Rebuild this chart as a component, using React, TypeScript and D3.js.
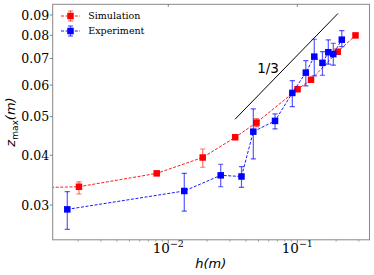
import React from 'react';
import {scaleLog, line} from 'd3';

const width = 374;
const height = 275;
const margins = {top: 4.3, bottom: 35.2, left: 52.7, right: 4.5};

// simulation (red): h, z, error low, error high
const simH = [0.0005, 0.00203, 0.00813, 0.01848, 0.0330, 0.04828, 0.1004, 0.1277, 0.2056, 0.2826];
const simZ = [0.0330, 0.03334, 0.03602, 0.03948, 0.04438, 0.04830, 0.05859, 0.06190, 0.07278, 0.07998];
const simLo = [0.0330, 0.03197, 0.03570, 0.03731, 0.04400, 0.04718, 0.05800, 0.06130, 0.07200, 0.07920];
const simHi = [0.0330, 0.03430, 0.03635, 0.04147, 0.04476, 0.04942, 0.05920, 0.06250, 0.07360, 0.08080];

// experiment (blue)
const expH = [0.001648, 0.0133, 0.02548, 0.03693, 0.0456, 0.0672, 0.0915, 0.1164, 0.1354, 0.1567, 0.1739, 0.1901, 0.2213];
const expZ = [0.02925, 0.03253, 0.03561, 0.03537, 0.04584, 0.04878, 0.05735, 0.06449, 0.07074, 0.06823, 0.07257, 0.07178, 0.07803];
const expLo = [0.02606, 0.02897, 0.03334, 0.03322, 0.03915, 0.04657, 0.05297, 0.05972, 0.06327, 0.06353, 0.06771, 0.06732, 0.07494];
const expHi = [0.03240, 0.03602, 0.03797, 0.03744, 0.05227, 0.05080, 0.06155, 0.06912, 0.07822, 0.07282, 0.07791, 0.07644, 0.08222];

// slope guide
const guideH = [0.0329, 0.2068];
const guideZ = [0.04925, 0.0908];

const yTicks = [0.03, 0.04, 0.05, 0.06, 0.07, 0.08, 0.09];
const yTickLabels = ['0.03', '0.04', '0.05', '0.06', '0.07', '0.08', '0.09'];
const xMajor = [0.01, 0.1];
const xMajorExp = ['\u22122', '\u22121'];
const xMinor = [0.002, 0.003, 0.004, 0.005, 0.006, 0.007, 0.008, 0.009,
  0.02, 0.03, 0.04, 0.05, 0.06, 0.07, 0.08, 0.09, 0.2, 0.3];

const series = [
  {name: 'Simulation', color: '#ff0000', bar: 'rgba(255,0,0,0.55)', h: simH, z: simZ, lo: simLo, hi: simHi},
  {name: 'Experiment', color: '#0000ff', bar: 'rgba(0,0,255,0.65)', h: expH, z: expZ, lo: expLo, hi: expHi},
];

export default function App() {
  const x0 = margins.left, x1 = width - margins.right;
  const y0 = height - margins.bottom, y1 = margins.top;

  const xScale = scaleLog().domain([0.00127, 0.3628]).range([x0, x1]);
  const yScale = scaleLog().domain([0.02453, 0.09574]).range([y0, y1]);

  const path = (hs: number[], zs: number[]) =>
    line<number>().x((d, i) => xScale(hs[i])).y((d, i) => yScale(zs[i]))(hs);

  const serif = 'DejaVu Serif';
  const ms = 6.5;

  return (
    <svg width={width} height={height} style={{position: 'absolute', left: 0, top: 0}}>
      <rect x={0} y={0} width={width} height={height} fill="white" />
      <defs>
        <clipPath id="plot">
          <rect x={x0} y={y1} width={x1 - x0} height={y0 - y1} />
        </clipPath>
      </defs>

      <g clipPath="url(#plot)">
        <path d={path(guideH, guideZ) || ''} stroke="black" strokeWidth={1} fill="none" />
        {series.map((s) => (
          <g key={s.name}>
            <path d={path(s.h, s.z) || ''} stroke={s.color} strokeWidth={0.9}
              strokeDasharray="3,1.6" fill="none" />
            {s.h.map((h, i) => (
              <g key={i}>
                <line x1={xScale(h)} x2={xScale(h)} y1={yScale(s.lo[i])} y2={yScale(s.hi[i])}
                  stroke={s.bar} strokeWidth={1.2} />
                <line x1={xScale(h) - 2.6} x2={xScale(h) + 2.6} y1={yScale(s.lo[i])} y2={yScale(s.lo[i])}
                  stroke={s.bar} strokeWidth={1.2} />
                <line x1={xScale(h) - 2.6} x2={xScale(h) + 2.6} y1={yScale(s.hi[i])} y2={yScale(s.hi[i])}
                  stroke={s.bar} strokeWidth={1.2} />
                <rect x={xScale(h) - ms / 2} y={yScale(s.z[i]) - ms / 2} width={ms} height={ms} fill={s.color} />
              </g>
            ))}
          </g>
        ))}
      </g>

      <text x={268} y={73} fontFamily="DejaVu Sans" fontSize={13.5} textAnchor="middle">1/3</text>

      {/* legend */}
      {series.map((s, i) => {
        const ly = 16 + i * 15;
        return (
          <g key={s.name}>
            <line x1={61} x2={80} y1={ly} y2={ly} stroke={s.color} strokeWidth={0.9} strokeDasharray="3,1.6" />
            <line x1={70.5} x2={70.5} y1={ly - 5} y2={ly + 5} stroke={s.bar} strokeWidth={1.2} />
            <line x1={68} x2={73} y1={ly - 5} y2={ly - 5} stroke={s.bar} strokeWidth={1.2} />
            <line x1={68} x2={73} y1={ly + 5} y2={ly + 5} stroke={s.bar} strokeWidth={1.2} />
            <rect x={70.5 - ms / 2} y={ly - ms / 2} width={ms} height={ms} fill={s.color} />
            <text x={88.3} y={ly + 3.4} fontFamily={serif} fontSize={9.5}>{s.name}</text>
          </g>
        );
      })}

      {/* frame */}
      <rect x={x0} y={y1} width={x1 - x0} height={y0 - y1} fill="none" stroke="#888" strokeWidth={1} />

      {/* y ticks */}
      {yTicks.map((t, i) => (
        <g key={t}>
          <line x1={x0 - 3} x2={x0} y1={yScale(t)} y2={yScale(t)} stroke="#666" strokeWidth={0.8} />
          <text x={x0 - 3.5} y={yScale(t) + 4.6} textAnchor="end" fontFamily={serif} fontSize={12.5}>{yTickLabels[i]}</text>
        </g>
      ))}

      {/* x ticks */}
      {xMinor.map((t) => (
        <line key={t} x1={xScale(t)} x2={xScale(t)} y1={y0} y2={y0 + 2} stroke="#777" strokeWidth={0.6} />
      ))}
      {xMajor.map((t, i) => (
        <g key={t}>
          <line x1={xScale(t)} x2={xScale(t)} y1={y0} y2={y0 + 3.5} stroke="#666" strokeWidth={0.8} />
          <line x1={xScale(t)} x2={xScale(t)} y1={y1} y2={y1 + 2.5} stroke="#666" strokeWidth={0.8} />
          <text x={xScale(t)} y={252.7} textAnchor="middle" fontFamily={serif} fontSize={13.5}>
            10<tspan dy={-5.5} fontSize={9.5}>{xMajorExp[i]}</tspan>
          </text>
        </g>
      ))}

      {/* axis labels */}
      <text x={210.7} y={267.5} textAnchor="middle" fontFamily="DejaVu Sans" fontSize={13} fontStyle="italic">
        h(m)
      </text>
      <text transform="translate(15,122) rotate(-90)" textAnchor="middle" fontFamily="DejaVu Sans" fontSize={13}>
        <tspan fontStyle="italic">z</tspan>
        <tspan fontSize={9} dy={3}>max</tspan>
        <tspan dy={-3} fontStyle="italic">(m)</tspan>
      </text>
    </svg>
  );
}
